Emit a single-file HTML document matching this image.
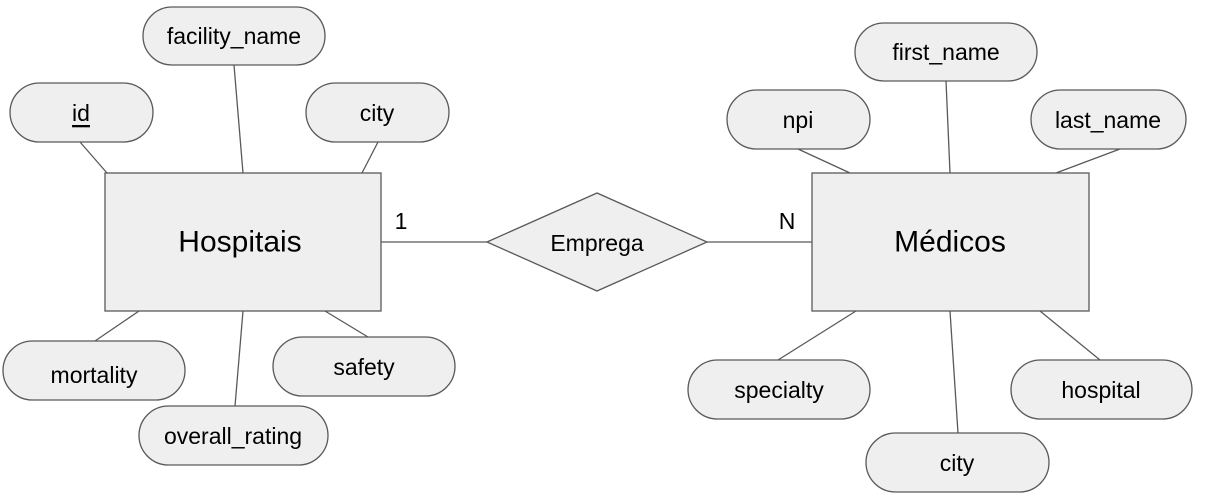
<!DOCTYPE html>
<html><head><meta charset="utf-8"><style>html,body{margin:0;padding:0;background:#fff;width:1223px;height:498px;overflow:hidden}</style></head>
<body>
<svg width="1223" height="498" viewBox="0 0 1223 498" xmlns="http://www.w3.org/2000/svg" font-family="Liberation Sans, Arial, sans-serif">
<g stroke="#595959" stroke-width="1.3" fill="none">
<line x1="80" y1="142" x2="107" y2="173"/>
<line x1="234" y1="65" x2="243" y2="173"/>
<line x1="378" y1="142" x2="362" y2="173"/>
<line x1="95" y1="341" x2="139" y2="311"/>
<line x1="235" y1="406" x2="243" y2="311"/>
<line x1="368" y1="337" x2="325" y2="311"/>
<line x1="798" y1="149" x2="850" y2="173"/>
<line x1="946" y1="81" x2="950" y2="173"/>
<line x1="1120" y1="149" x2="1056" y2="173"/>
<line x1="778" y1="360" x2="856" y2="311"/>
<line x1="958" y1="433" x2="950" y2="311"/>
<line x1="1100" y1="360" x2="1040" y2="311"/>
<line x1="381" y1="242" x2="487" y2="242"/>
<line x1="707" y1="242" x2="812" y2="242"/>
</g>
<g fill="#efefef" stroke="#595959" stroke-width="1.3">
<rect x="105" y="173" width="276" height="138"/>
<rect x="812" y="173" width="277" height="138"/>
<polygon points="487,242 597,193 707,242 597,291"/>
<rect x="10" y="83" width="143" height="59" rx="29.5"/>
<rect x="143" y="7" width="182" height="58" rx="29"/>
<rect x="306" y="83" width="143" height="59" rx="29.5"/>
<rect x="3" y="341" width="182" height="59" rx="29.5"/>
<rect x="139" y="406" width="189" height="59" rx="29.5"/>
<rect x="273" y="337" width="182" height="59" rx="29.5"/>
<rect x="727" y="90" width="143" height="59" rx="29.5"/>
<rect x="855" y="23" width="182" height="58" rx="29"/>
<rect x="1031" y="90" width="155" height="59" rx="29.5"/>
<rect x="688" y="360" width="182" height="59" rx="29.5"/>
<rect x="866" y="433" width="183" height="59" rx="29.5"/>
<rect x="1011" y="360" width="181" height="59" rx="29.5"/>
</g>
<g fill="#000" font-size="23" text-anchor="middle" dominant-baseline="central">
<text x="240" y="242" font-size="30">Hospitais</text>
<text x="950" y="242" font-size="30">Médicos</text>
<text x="597" y="243">Emprega</text>
<text x="81" y="113" text-decoration="underline">id</text>
<text x="234" y="36">facility_name</text>
<text x="377" y="113">city</text>
<text x="94" y="375">mortality</text>
<text x="233" y="436">overall_rating</text>
<text x="364" y="367">safety</text>
<text x="798" y="120">npi</text>
<text x="946" y="52">first_name</text>
<text x="1108" y="120">last_name</text>
<text x="779" y="390">specialty</text>
<text x="957" y="463">city</text>
<text x="1101" y="390">hospital</text>
<text x="401" y="221">1</text>
<text x="787" y="221">N</text>
</g>
</svg>
</body></html>
